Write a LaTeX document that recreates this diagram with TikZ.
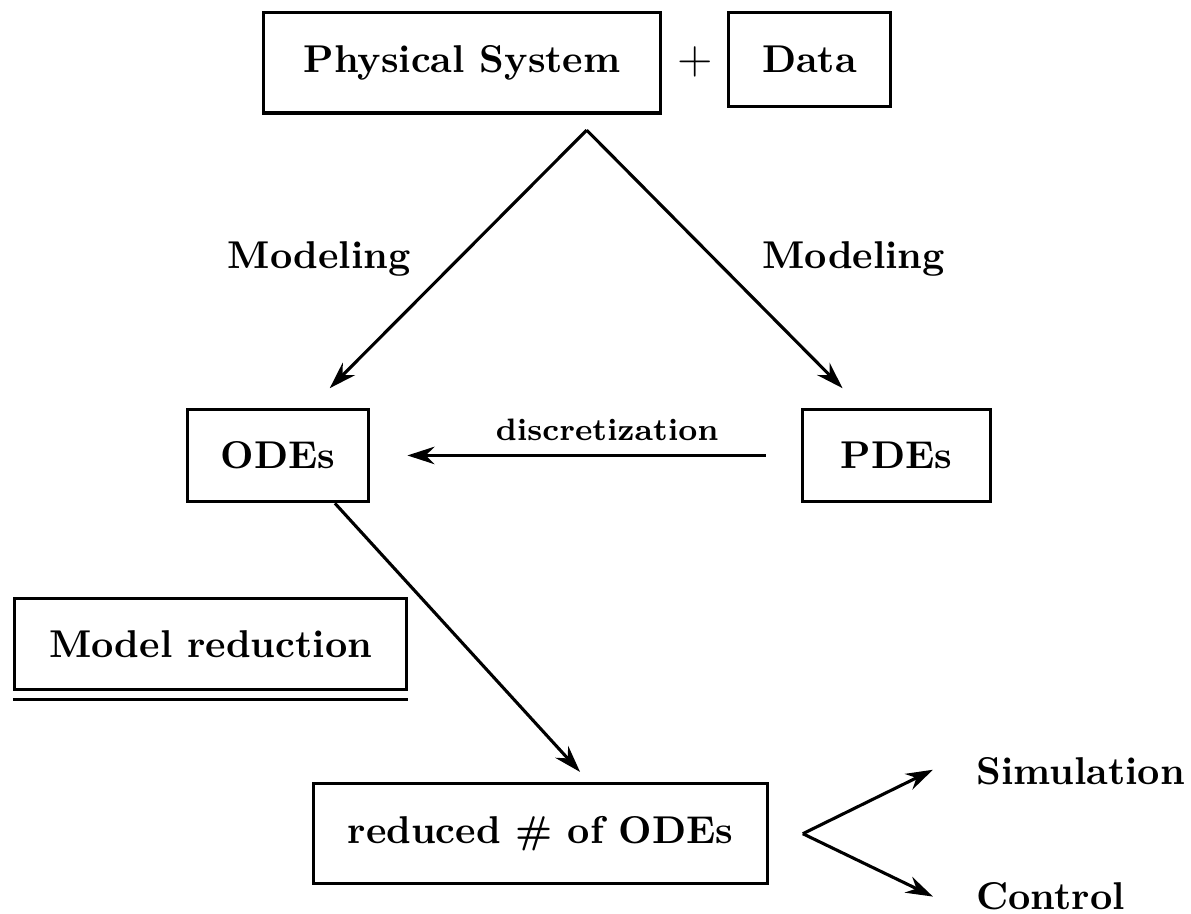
\documentclass[tikz,border=0pt]{standalone}
\usetikzlibrary{arrows.meta}

\begin{document}
\begin{tikzpicture}[>={Stealth[length=7pt,width=4.5pt]},line width=0.8pt,
      box node/.style={draw,font=\bfseries,inner sep=0pt},
      label node/.style={font=\bfseries}]
    \useasboundingbox (0,0) rectangle (10.80,-8.28);
    \node[box node,minimum width=3.60cm,minimum height=0.91cm] (PS) at (4.19,-0.57) {Physical System};
    \node (plus) at (6.30,-0.56) {\large$+$};
    \node[box node,minimum width=1.47cm,minimum height=0.85cm] (Data) at (7.34,-0.54) {Data};
    \node[box node,minimum width=1.64cm,minimum height=0.84cm] (ODE) at (2.52,-4.13) {ODEs};
    \node[box node,minimum width=1.70cm,minimum height=0.83cm] (PDE) at (8.13,-4.13) {PDEs};
    \node[box node,minimum width=3.56cm,minimum height=0.83cm] (MR) at (1.91,-5.84) {Model reduction};
    \node[box node,minimum width=4.12cm,minimum height=0.91cm] (RED) at (4.90,-7.56) {reduced \# of ODEs};
    \node[label node,anchor=west,inner sep=0pt] (Sim) at (8.84,-6.99) {Simulation};
    \node[label node,anchor=west,inner sep=0pt] (Ctrl) at (8.84,-8.13) {Control};
    \coordinate (apex) at (5.32,-1.18);
    \coordinate (odetip) at (2.99,-3.52);
    \coordinate (pdetip) at (7.64,-3.52);
    \coordinate (redtip) at (5.26,-7.00);
    \coordinate (fork) at (7.28,-7.56);
    \coordinate (simtip) at (8.46,-6.98);
    \coordinate (ctrltip) at (8.46,-8.13);
    \path[every node/.style={font=\bfseries}]
    (apex) edge [->] node [left=0.3cm] {Modeling} (odetip)
           edge [->] node [right=0.3cm] {Modeling} (pdetip)
    (PDE) edge [->,shorten <=0.32cm,shorten >=0.34cm] node [pos=0.45,above,font=\footnotesize\bfseries] {discretization} (ODE)
    (ODE.-40) edge [->] (redtip)
    (fork) edge [->] (simtip)
           edge [->] (ctrltip);
    \draw ([yshift=-0.07cm]MR.south west) -- ([yshift=-0.07cm]MR.south east);
\end{tikzpicture}
\end{document}
